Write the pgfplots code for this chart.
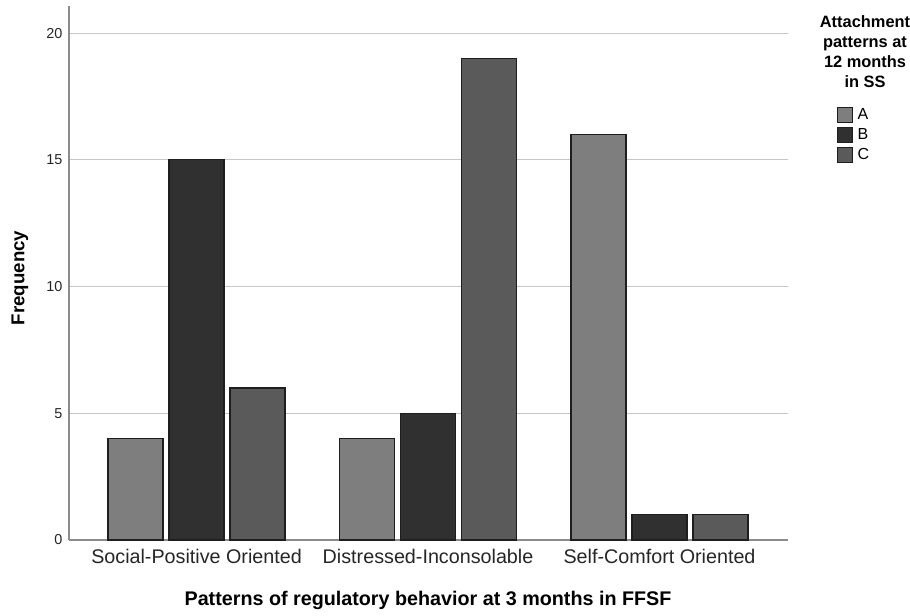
\documentclass[border=0pt]{standalone}
\usepackage{fontspec}
\setmainfont{Liberation Sans}
\usepackage{pgfplots}
\pgfplotsset{compat=1.18}
\definecolor{cA}{HTML}{7E7E7E}
\definecolor{cB}{HTML}{303030}
\definecolor{cC}{HTML}{5A5A5A}
\definecolor{edge}{HTML}{1E1E1E}
\begin{document}
\begin{tikzpicture}
\path[use as bounding box] (0pt,0pt) rectangle (682.5pt,461.25pt);
\begin{axis}[
  at={(51.75pt,56.25pt)}, anchor=south west, scale only axis,
  width=539.25pt, height=400.5pt,
  ybar, bar width=0.2376,
  xmin=-0.551, xmax=2.555, ymin=0, ymax=21.07,
  xtick={0,1,2},
  xticklabels={Social-Positive Oriented,Distressed-Inconsolable,Self-Comfort Oriented},
  ytick={0,5,10,15,20},
  ymajorgrids, grid style={draw=black!22, line width=0.9pt},
  axis x line=bottom, axis y line=left,
  axis line style={draw=black!45, line width=0.9pt, -},
  major tick length=0pt,
  xticklabel style={font=\fontsize{14.8}{17}\selectfont, text=black!85, yshift=-3pt},
  yticklabel style={font=\fontsize{10.8}{13}\selectfont, text=black!85, xshift=-1.5pt},
  /pgf/number format/assume math mode=true,
  legend style={at={(1.0678,0.811)}, anchor=north west, draw=none, fill=none,
    font=\fontsize{12}{14}\selectfont, row sep=2.75pt, inner sep=0pt,
    nodes={inner sep=1pt}, legend cell align=left},
  legend image code/.code={\draw[#1] (0pt,-5.6pt) rectangle (11.2pt,5.6pt); \path (13.6pt,0pt);},
]
\addplot[fill=cA, draw=edge, line width=0.9pt, bar shift=-0.2635] coordinates {(0,4) (1,4) (2,16)};
\addplot[fill=cB, draw=edge, line width=0.9pt, bar shift=0] coordinates {(0,15) (1,5) (2,1)};
\addplot[fill=cC, draw=edge, line width=0.9pt, bar shift=0.2635] coordinates {(0,6) (1,19) (2,1)};
\legend{A,B,C}
\end{axis}
\node[font=\bfseries\fontsize{14.8}{17}\selectfont] at (321pt,11.25pt) {Patterns of regulatory behavior at 3 months in FFSF};
\node[font=\bfseries\fontsize{14}{17}\selectfont, rotate=90] at (15pt,252.75pt) {Frequency};
\node[font=\bfseries\fontsize{12.3}{15}\selectfont, align=center] at (648.75pt,422.25pt) {Attachment\\patterns at\\12 months\\in SS};
\end{tikzpicture}
\end{document}
